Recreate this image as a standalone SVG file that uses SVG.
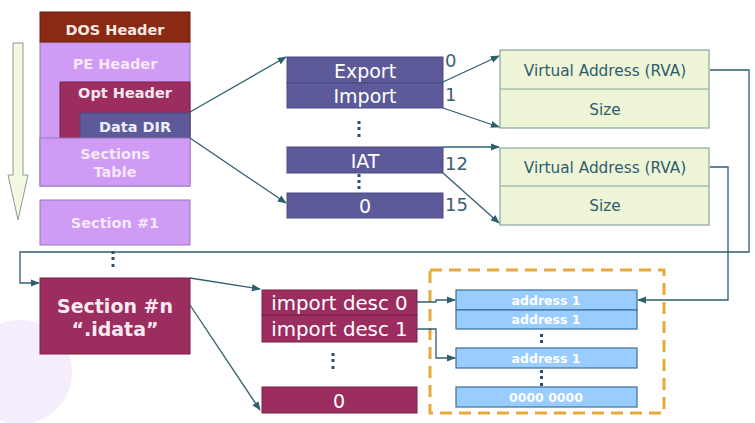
<svg xmlns="http://www.w3.org/2000/svg" width="755" height="423" viewBox="0 0 755 423">
<style>
text{font-family:"DejaVu Sans","Verdana",sans-serif;text-anchor:middle}
.lb{font-weight:bold;font-size:14.5px}
.mid{font-size:19px;fill:#ffffff}
.num{font-size:18px;fill:#3a6070;text-anchor:start}
.va{font-size:15.3px;fill:#2e5c6e}
.ad{font-size:12.5px;font-weight:bold;fill:#ffffff}
.dd{fill:#5c5a99;stroke:#4a4a80;stroke-width:1}
.im{fill:#9c2d5f;stroke:#7a2048;stroke-width:1}
.vab{fill:#eef5d6;stroke:#8aa5a0;stroke-width:1.2}
.adb{fill:#99ccff;stroke:#3d6e99;stroke-width:1.2}
.ln{fill:none;stroke:#2f5f6f;stroke-width:1.3}
.dot{fill:#2f4f6f}
</style>
<defs>
<marker id="ah" viewBox="0 0 10 10" refX="9" refY="5" markerWidth="7" markerHeight="7" orient="auto">
<path d="M0,1 L10,5 L0,9 z" fill="#2f5f6f"/>
</marker>
</defs>
<rect width="755" height="423" fill="#ffffff"/>
<circle cx="20" cy="372" r="52" fill="#f3e9fb" opacity="0.8"/>

<g id="arrow-left">
<path d="M13,43 L23,43 L23,175 L28,175 L18,220 L8,175 L13,175 Z" fill="#f2f8e2" stroke="#8a9a9a" stroke-width="1"/>
</g>

<g id="pe-header">
<rect x="40" y="42" width="150" height="144" fill="#cf9bf5" stroke="#9a78bb" stroke-width="1"/>
<text class="lb" x="115" y="69" fill="#f6e9ff">PE Header</text>
</g>
<g id="dos-header">
<rect x="40" y="12" width="150" height="30" fill="#8b2a14" stroke="#6e1f0e" stroke-width="1"/>
<text class="lb" x="115" y="35" fill="#f8e8e0">DOS Header</text>
</g>
<g id="opt-header">
<rect x="60" y="82" width="130" height="56" fill="#9c2d5f" stroke="#7a2048" stroke-width="1"/>
<text class="lb" x="125" y="98" fill="#f6e6ee">Opt Header</text>
</g>
<g id="data-dir">
<rect x="80" y="113" width="110" height="25" fill="#5c5a99" stroke="#4a4a80" stroke-width="1"/>
<text class="lb" x="135" y="132" fill="#eeeeff">Data DIR</text>
</g>
<g id="sections-table">
<rect x="40" y="138" width="150" height="48" fill="#cf9bf5" stroke="#9a78bb" stroke-width="1"/>
<text class="lb" x="115" y="159" fill="#f6e9ff">Sections</text>
<text class="lb" x="115" y="177" fill="#f6e9ff">Table</text>
</g>
<g id="section-1">
<rect x="40" y="200" width="150" height="45" fill="#cf9bf5" stroke="#9a78bb" stroke-width="1"/>
<text class="lb" x="115" y="228" fill="#f6e9ff">Section #1</text>
</g>
<g id="dots-left" class="dot">
<rect x="111.5" y="251" width="3" height="3"/><rect x="111.5" y="257" width="3" height="3"/><rect x="111.5" y="264" width="3" height="3"/>
</g>
<g id="section-n">
<rect x="40" y="278" width="150" height="76" fill="#9c2d5f" stroke="#7a2048" stroke-width="1"/>
<text x="115" y="313" font-size="19" font-weight="bold" fill="#f8e8f0">Section #n</text>
<text x="115" y="336" font-size="19" font-weight="bold" fill="#f8e8f0">“.idata”</text>
</g>

<g id="dir-export">
<rect class="dd" x="287" y="57" width="156" height="26"/>
<text class="mid" x="365" y="78">Export</text>
</g>
<g id="dir-import">
<rect class="dd" x="287" y="83" width="156" height="25"/>
<text class="mid" x="365" y="103">Import</text>
</g>
<g id="dots-mid1" class="dot">
<rect x="357.5" y="121" width="3" height="3"/><rect x="357.5" y="127" width="3" height="3"/><rect x="357.5" y="134" width="3" height="3"/>
</g>
<g id="dir-iat">
<rect class="dd" x="287" y="147" width="156" height="26"/>
<text class="mid" x="365" y="168">IAT</text>
</g>
<g id="dots-mid2" class="dot">
<rect x="357.5" y="174" width="3" height="3"/><rect x="357.5" y="180" width="3" height="3"/><rect x="357.5" y="186" width="3" height="3"/>
</g>
<g id="dir-zero">
<rect class="dd" x="287" y="193" width="156" height="25"/>
<text class="mid" x="365" y="213">0</text>
</g>
<g id="dir-indices">
<text class="num" x="445" y="67">0</text>
<text class="num" x="445" y="101">1</text>
<text class="num" x="445" y="170">12</text>
<text class="num" x="445" y="211">15</text>
</g>

<g id="va-box-1">
<rect class="vab" x="500" y="50" width="209" height="78"/>
<line x1="500" y1="89" x2="709" y2="89" stroke="#8aa5a0" stroke-width="1.2"/>
<text class="va" x="605" y="76">Virtual Address (RVA)</text>
<text class="va" x="605" y="115">Size</text>
</g>
<g id="va-box-2">
<rect class="vab" x="500" y="148" width="209" height="77"/>
<line x1="500" y1="186" x2="709" y2="186" stroke="#8aa5a0" stroke-width="1.2"/>
<text class="va" x="605" y="173">Virtual Address (RVA)</text>
<text class="va" x="605" y="211">Size</text>
</g>

<g id="import-desc-0">
<rect class="im" x="262" y="290" width="155" height="25"/>
<text class="mid" x="339.5" y="310" style="font-size:19.8px">import desc 0</text>
</g>
<g id="import-desc-1">
<rect class="im" x="262" y="315" width="155" height="27"/>
<text class="mid" x="339.5" y="336" style="font-size:19.8px">import desc 1</text>
</g>
<g id="dots-imp" class="dot">
<rect x="331.5" y="353" width="3" height="3"/><rect x="331.5" y="359" width="3" height="3"/><rect x="331.5" y="366" width="3" height="3"/>
</g>
<g id="import-zero">
<rect class="im" x="262" y="387" width="155" height="26"/>
<text class="mid" x="339" y="408">0</text>
</g>

<g id="iat-group">
<rect x="430" y="270" width="234" height="143" fill="none" stroke="#e8a93a" stroke-width="3" stroke-dasharray="12,7"/>
</g>
<g id="addr-1a">
<rect class="adb" x="456" y="290" width="181" height="20"/>
<text class="ad" x="546" y="305">address 1</text>
</g>
<g id="addr-1b">
<rect class="adb" x="456" y="310" width="181" height="19"/>
<text class="ad" x="546" y="324">address 1</text>
</g>
<g id="dots-addr1" class="dot">
<rect x="540" y="334" width="3" height="3"/><rect x="540" y="340" width="3" height="3"/>
</g>
<g id="addr-1c">
<rect class="adb" x="456" y="348" width="181" height="20"/>
<text class="ad" x="546" y="363">address 1</text>
</g>
<g id="dots-addr2" class="dot">
<rect x="540" y="370" width="3" height="3"/><rect x="540" y="376" width="3" height="3"/><rect x="540" y="383" width="3" height="3"/>
</g>
<g id="addr-zero">
<rect class="adb" x="456" y="387" width="181" height="20"/>
<text class="ad" x="546" y="402">0000 0000</text>
</g>

<g id="connectors">
<line class="ln" x1="190" y1="112" x2="286" y2="57" marker-end="url(#ah)"/>
<line class="ln" x1="190" y1="138" x2="286" y2="203" marker-end="url(#ah)"/>
<line class="ln" x1="443" y1="82" x2="499" y2="56" marker-end="url(#ah)"/>
<line class="ln" x1="443" y1="108" x2="499" y2="127" marker-end="url(#ah)"/>
<line class="ln" x1="443" y1="147" x2="499" y2="147" marker-end="url(#ah)"/>
<line class="ln" x1="443" y1="173" x2="499" y2="223" marker-end="url(#ah)"/>
<polyline class="ln" points="710,70 749,70 749,252 20,252 20,283 39,283" marker-end="url(#ah)"/>
<polyline class="ln" points="710,167 728,167 728,300 638,300" marker-end="url(#ah)"/>
<line class="ln" x1="190" y1="278" x2="260" y2="289" marker-end="url(#ah)"/>
<line class="ln" x1="190" y1="305" x2="260" y2="410" marker-end="url(#ah)"/>
<polyline class="ln" points="417,302 436,302 436,300 455,300" marker-end="url(#ah)"/>
<polyline class="ln" points="417,329 436,329 436,358 455,358" marker-end="url(#ah)"/>
</g>
</svg>
